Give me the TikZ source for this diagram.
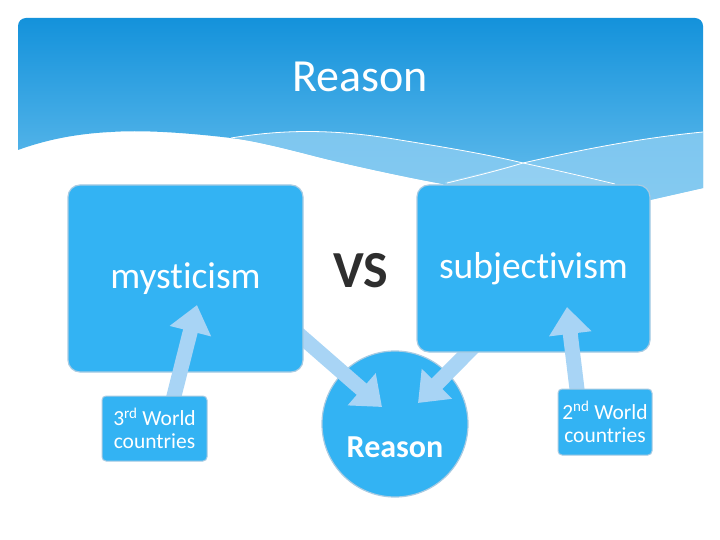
\documentclass[tikz,border=0pt]{standalone}
\usepackage{fontspec}
\setmainfont{Carlito}[Ligatures=NoCommon]
\usetikzlibrary{arrows.meta,calc}
\definecolor{boxblue}{HTML}{33B3F3}
\definecolor{arrowblue}{HTML}{A8D4F5}
\definecolor{edgegray}{HTML}{A9CBE2}
\definecolor{hdtop}{HTML}{1492DB}
\definecolor{hdbot}{HTML}{66BEED}
\definecolor{bandblue}{HTML}{8CCDF2}
\definecolor{vsgray}{HTML}{2E2E2E}
\pgfdeclarelayer{bg}
\pgfdeclarelayer{lowarrows}
\pgfdeclarelayer{higharrows}
\pgfdeclarelayer{top}
\pgfsetlayers{bg,lowarrows,main,higharrows,top}
\tikzset{
  bigbox/.style={rectangle, rounded corners=12pt, fill=boxblue, draw=edgegray, line width=1.2pt,
    text=white, font=\fontsize{37.5}{40}\selectfont, inner sep=0pt},
  smallbox/.style={rectangle, rounded corners=4pt, fill=boxblue, draw=edgegray, line width=1pt,
    text=white, font=\fontsize{21.5}{23}\selectfont, align=center, inner sep=0pt},
  fatarrow/.style={draw=arrowblue, line width=15pt, -{Triangle[width=41pt,length=27pt]}},
  whiteline/.style={draw=white, line width=0.8pt}
}
\begin{document}
\begin{tikzpicture}[x=1pt,y=-1pt]
\useasboundingbox (0,0) rectangle (720,540);

\begin{pgfonlayer}{bg}
\fill[white] (0,0) rectangle (720,540);
% header with wave
\def\headerpath{(18,150) [rounded corners=8pt] -- (18,18) -- (703,18) -- (703,100) [sharp corners]
  -- (703,188) -- (650,200) -- (460,200) -- (443,184)
  .. controls (400,176) and (350,165) .. (318,157)
  .. controls (280,147) and (250,140) .. (231,138)
  .. controls (180,132) and (140,130) .. (111,132)
  .. controls (70,134) and (40,142) .. (18,150) -- cycle}
\shade[top color=hdtop, bottom color=hdbot] \headerpath;
\begin{scope}
  \clip \headerpath;
  \fill[bandblue, opacity=0.8] (231,138) .. controls (280,130) and (330,128) .. (400,140)
     .. controls (450,148) and (490,155) .. (523,163)
     .. controls (580,150) and (640,138) .. (703,132) -- (703,230) -- (231,230) -- cycle;
  \fill[bandblue!80!white, opacity=0.5] (445,182) -- (523,163) -- (612,184) -- (560,200) -- (450,200) -- cycle;
  \draw[whiteline] (231,138) .. controls (280,130) and (330,128) .. (400,140)
     .. controls (450,148) and (490,155) .. (523,163) .. controls (560,171) and (590,178) .. (615,184);
  \draw[whiteline] (447,183) .. controls (480,175) and (500,170) .. (523,163)
     .. controls (580,150) and (640,138) .. (703,132);
\end{scope}
\node[text=white, font=\fontsize{46}{50}\selectfont] (title) at (360,77) {Reason};
% central circle
\node[circle, fill=boxblue, draw=edgegray, line width=1.2pt, minimum size=146pt, inner sep=0pt] (reason) at (395,424) {};
\node[text=white, font=\bfseries\fontsize{32}{36}\selectfont] (reasontxt) at (395,447) {Reason};
\end{pgfonlayer}

% big boxes
\node[bigbox, minimum width=235pt, minimum height=187pt] (myst) at (185.5,278.5) {mysticism};
\node[bigbox, minimum width=233pt, minimum height=167pt] (subj) at (533.5,268.5) {subjectivism};
\node[text=vsgray, font=\bfseries\fontsize{52}{56}\selectfont] (vs) at (361,271) {VS};

% small boxes
\begin{pgfonlayer}{top}
\node[smallbox, minimum width=105pt, minimum height=65pt] (w3) at (154.5,428.5) {3\textsuperscript{rd} World\\countries};
\node[smallbox, minimum width=94pt, minimum height=66pt] (w2) at (605,422) {2\textsuperscript{nd} World\\countries};
\end{pgfonlayer}

% arrow end points
\coordinate (tipA) at (382,407);
\coordinate (tipB) at (418,403);
\coordinate (tipC) at (197,305);
\coordinate (tipD) at (567,307);
\coordinate (tailA) at (280,318);
\coordinate (tailB) at (490,330);

\begin{pgfonlayer}{lowarrows}
\draw[fatarrow] (tailA) -- (tipA);
\draw[fatarrow] (tailB) -- (tipB);
\end{pgfonlayer}
\begin{pgfonlayer}{higharrows}
\draw[fatarrow] ($(w3.center)+(10,5)$) -- (tipC);
\draw[fatarrow] ($(w2.center)+(-24,0)$) -- (tipD);
\end{pgfonlayer}
\end{tikzpicture}
\end{document}
